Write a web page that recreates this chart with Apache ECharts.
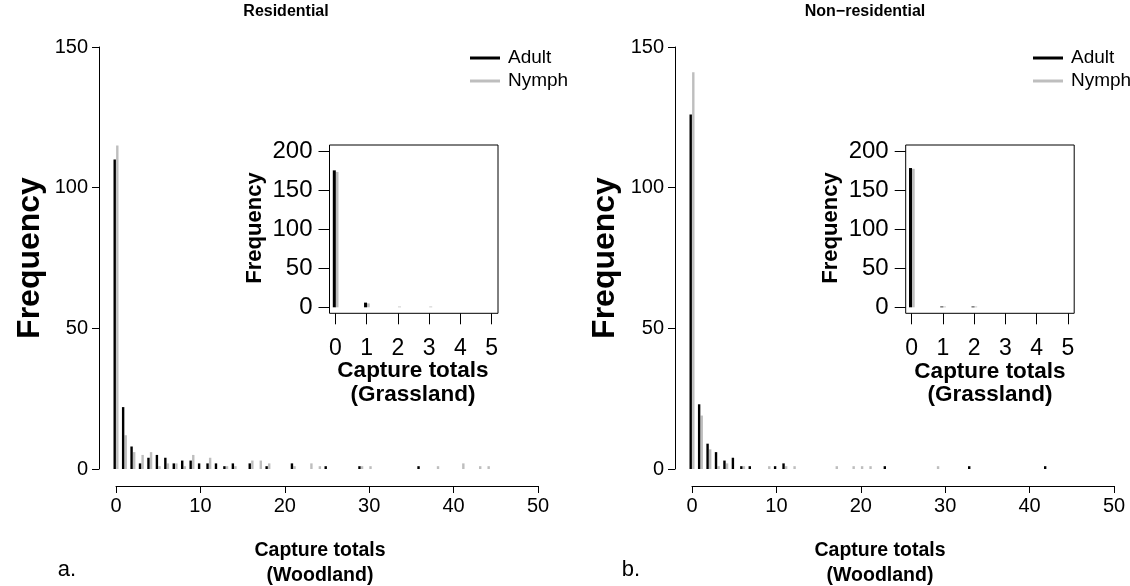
<!DOCTYPE html>
<html>
<head>
<meta charset="utf-8">
<script src="https://cdn.jsdelivr.net/npm/echarts@6/dist/echarts.min.js"></script>
<style>
  html, body { margin: 0; padding: 0; background: #fff; }
  #chart { width: 1130px; height: 586px; }
</style>
</head>
<body>
<div id="chart"></div>
<script>
// capture totals (x) and frequencies (y)
var resWoodAdultX = [0, 1, 2, 3, 4, 5, 6, 7, 8, 9, 10, 11, 12, 13, 14, 16, 18, 21, 25, 29, 36];
var resWoodAdultY = [110, 22, 8, 2, 4, 5, 4, 2, 3, 3, 2, 2, 2, 1, 2, 2, 1, 2, 1, 1, 1];
var resWoodNymphX = [0, 1, 2, 3, 4, 5, 6, 7, 8, 9, 11, 13, 14, 16, 17, 18, 21, 23, 24, 29, 30, 38, 41, 43, 44];
var resWoodNymphY = [115, 12, 6, 5, 6, 1, 2, 2, 1, 5, 4, 1, 1, 3, 3, 2, 1, 2, 1, 1, 1, 1, 2, 1, 1];

var nonWoodAdultX = [0, 1, 2, 3, 4, 5, 6, 7, 10, 11, 23, 33, 42];
var nonWoodAdultY = [126, 23, 9, 6, 3, 4, 1, 1, 1, 2, 1, 1, 1];
var nonWoodNymphX = [0, 1, 2, 3, 4, 6, 9, 11, 12, 17, 19, 20, 21, 29];
var nonWoodNymphY = [141, 19, 7, 1, 2, 1, 1, 1, 1, 1, 1, 1, 1, 1];

var resGrassAdultX = [0, 1];
var resGrassAdultY = [176, 6];
var resGrassNymphX = [0, 1, 2, 3];
var resGrassNymphY = [174, 5, 1, 1];

var nonGrassAdultX = [0, 1, 2];
var nonGrassAdultY = [179, 1, 1];
var nonGrassNymphX = [0, 1, 2];
var nonGrassNymphY = [178, 1, 1];

var mainTicksX = [0, 10, 20, 30, 40, 50];
var mainTicksY = [0, 50, 100, 150];
var insetTicksX = [0, 1, 2, 3, 4, 5];
var insetTicksY = [0, 50, 100, 150, 200];

var FONT = '"Liberation Sans", Arial, Helvetica, sans-serif';
var BLACK = '#000000';
var GREY = '#bebebe';

function pairs(xs, ys) {
    return xs.map(function (x, i) { return [x, ys[i]]; });
}

// vertical "h" type bars, shifted a little sideways so both series show
function spikes(name, grid, xs, ys, color, shift, width) {
    return {
        type: 'custom',
        name: name,
        xAxisIndex: grid,
        yAxisIndex: grid,
        clip: false,
        silent: true,
        animation: false,
        itemStyle: { color: color },
        data: pairs(xs, ys),
        renderItem: function (params, api) {
            var top = api.coord([api.value(0), api.value(1)]);
            var base = api.coord([api.value(0), 0]);
            return {
                type: 'rect',
                shape: { x: top[0] + shift - width / 2, y: top[1], width: width, height: base[1] - top[1] },
                style: { fill: api.visual('color') }
            };
        }
    };
}

function axisFor(grid, ticks, size, offset, tickLen, margin, showLine) {
    return {
        type: 'value', gridIndex: grid,
        min: ticks[0], max: ticks[ticks.length - 1], interval: ticks[1] - ticks[0],
        offset: offset,
        axisLine: { show: showLine, onZero: false, lineStyle: { color: BLACK, width: 1 } },
        axisTick: { show: true, length: tickLen, lineStyle: { color: BLACK } },
        axisLabel: { fontFamily: FONT, fontSize: size, color: BLACK, margin: margin },
        splitLine: { show: false }
    };
}

function label(text, x, y, size, bold, rotate) {
    return {
        type: 'text', x: x, y: y, rotation: rotate ? Math.PI / 2 : 0, silent: true,
        style: {
            text: text, fill: BLACK, align: 'center', verticalAlign: 'middle',
            font: (bold ? 'bold ' : '') + size + 'px ' + FONT
        }
    };
}

function box(x, y, w, h) {
    return { type: 'rect', silent: true, shape: { x: x, y: y, width: w, height: h },
             style: { fill: 'none', stroke: BLACK, lineWidth: 1 } };
}

function legendAt(left) {
    return {
        orient: 'vertical', left: left, top: 47, padding: 0, icon: 'rect',
        itemWidth: 30, itemHeight: 3, itemGap: 1,
        data: ['Adult', 'Nymph'], selectedMode: false,
        textStyle: { fontFamily: FONT, fontSize: 19, color: BLACK, lineHeight: 22, padding: [0, 0, 0, 3], overflow: 'none' }
    };
}

var chart = echarts.init(document.getElementById('chart'), null, { renderer: 'canvas' });

var option = {
    backgroundColor: '#ffffff',
    animation: false,
    grid: [
        { left: 116, top: 47, width: 422, height: 422 },
        { left: 692, top: 47, width: 422, height: 422 },
        { left: 335.5, top: 151.7, width: 156.2, height: 155.6 },
        { left: 911.7, top: 151.7, width: 156.2, height: 155.6 }
    ],
    xAxis: [
        axisFor(0, mainTicksX, 20, 17, 7, 10, true),
        axisFor(1, mainTicksX, 20, 17, 7, 10, true),
        axisFor(2, insetTicksX, 23, 6, 11, 24, false),
        axisFor(3, insetTicksX, 23, 6, 11, 24, false)
    ],
    yAxis: [
        axisFor(0, mainTicksY, 20, 17, 7, 11, true),
        axisFor(1, mainTicksY, 20, 17, 7, 11, true),
        axisFor(2, insetTicksY, 24, 6, 11, 17, false),
        axisFor(3, insetTicksY, 24, 6, 11, 17, false)
    ],
    legend: [legendAt(470), legendAt(1033)],
    series: [
        spikes('Nymph', 0, resWoodNymphX, resWoodNymphY, GREY, 1.3, 2.4),
        spikes('Adult', 0, resWoodAdultX, resWoodAdultY, BLACK, -1.3, 2.4),
        spikes('Nymph', 1, nonWoodNymphX, nonWoodNymphY, GREY, 1.3, 2.4),
        spikes('Adult', 1, nonWoodAdultX, nonWoodAdultY, BLACK, -1.3, 2.4),
        spikes('Nymph', 2, resGrassNymphX, resGrassNymphY, GREY, 1.5, 3),
        spikes('Adult', 2, resGrassAdultX, resGrassAdultY, BLACK, -1.2, 3),
        spikes('Nymph', 3, nonGrassNymphX, nonGrassNymphY, GREY, 1.5, 3),
        spikes('Adult', 3, nonGrassAdultX, nonGrassAdultY, BLACK, -1.2, 3)
    ],
    graphic: [
        box(329.5, 145, 168.5, 168.3),
        box(905.7, 145, 168.5, 168.3),
        label('Residential', 286, 12, 16, true),
        label('Non\u2212residential', 865, 12, 16, true),
        label('Frequency', 30, 258, 32, true, true),
        label('Frequency', 605, 258, 32, true, true),
        label('Capture totals', 320, 551, 19.5, true),
        label('(Woodland)', 320, 576, 19.5, true),
        label('Capture totals', 880, 551, 19.5, true),
        label('(Woodland)', 880, 576, 19.5, true),
        label('a.', 67, 570, 22, false),
        label('b.', 631, 570, 22, false),
        label('Frequency', 255, 228, 22, true, true),
        label('Frequency', 831, 228, 22, true, true),
        label('Capture totals', 413, 371, 22.5, true),
        label('(Grassland)', 413, 395, 22.5, true),
        label('Capture totals', 990, 372, 22.5, true),
        label('(Grassland)', 990, 395, 22.5, true)
    ]
};

chart.setOption(option);
window.addEventListener('resize', function () { chart.resize(); });
</script>
</body>
</html>
